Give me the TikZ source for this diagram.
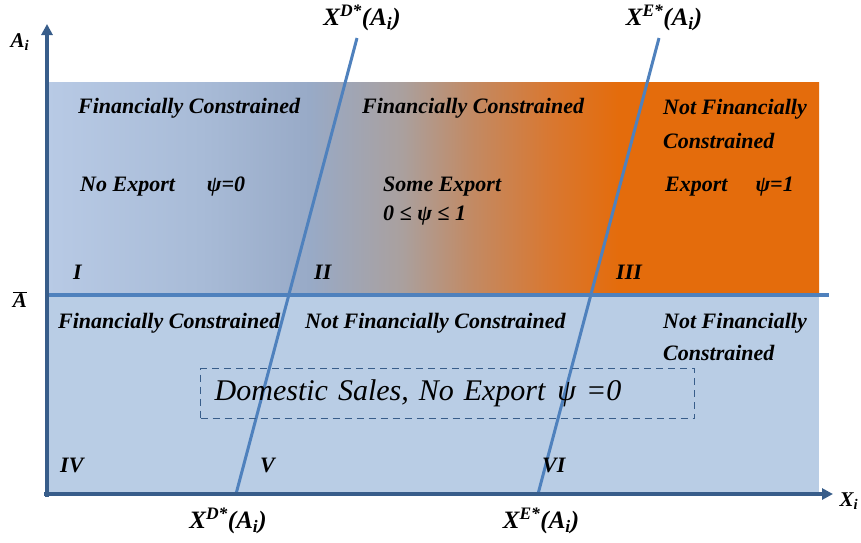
\documentclass[tikz,border=0pt]{standalone}
\usepackage{fontspec}
\setmainfont{Liberation Serif}
\usetikzlibrary{arrows.meta}
\definecolor{lowblue}{RGB}{185,205,229}
\definecolor{lineblue}{RGB}{79,129,189}
\definecolor{axisblue}{RGB}{56,93,138}
\definecolor{gA}{RGB}{184,202,229}
\definecolor{gB}{RGB}{168,187,215}
\definecolor{gC}{RGB}{152,170,199}
\definecolor{gD}{RGB}{170,160,158}
\definecolor{gE}{RGB}{194,138,100}
\definecolor{gF}{RGB}{216,120,50}
\definecolor{orng}{RGB}{228,108,12}
\pgfdeclarehorizontalshading{upperband}{100bp}{color(0bp)=(gA); color(25bp)=(gA); color(35bp)=(gB); color(42bp)=(gC); color(48bp)=(gD); color(52.5bp)=(gE); color(57.5bp)=(gF); color(62bp)=(orng); color(75bp)=(orng); color(100bp)=(orng)}
\newcommand\xstarlab[1]{X\textsuperscript{#1*}(A\textsubscript{i})}
\begin{document}
\begin{tikzpicture}[x=1pt,y=-1pt,
  lbl/.style={font=\fontsize{22}{26}\selectfont\bfseries\itshape, inner sep=0pt, anchor=base west},
  roman/.style={font=\fontsize{22}{26}\selectfont\bfseries\itshape, inner sep=0pt, anchor=base west},
  axlbl/.style={font=\fontsize{21}{25}\selectfont\bfseries\itshape, inner sep=0pt},
  xlab/.style={font=\fontsize{25}{29}\selectfont\bfseries\itshape, inner sep=0pt},
  curve/.style={lineblue, line width=3pt},
  axis/.style={axisblue, line width=4pt, -{Triangle[length=11pt,width=11pt]}}]
\useasboundingbox (0,0) rectangle (861,542);
% regions
\shade[shading=upperband] (47,82) rectangle (819,295);
\fill[lowblue] (47,295) rectangle (819,494);
% coordinates
\coordinate (abarL) at (47,295);
\coordinate (abarR) at (829,295);
\coordinate (dtop) at (357,38);
\coordinate (dbot) at (236,494);
\coordinate (etop) at (659,38);
\coordinate (ebot) at (538,494);
\coordinate (ybase) at (47,497);
\coordinate (ytip) at (47,24);
\coordinate (xbase) at (44,494);
\coordinate (xtip) at (833,494);
% lines
\draw[lineblue, line width=3.5pt] (abarL) -- (abarR);
\draw[curve] (dtop) -- (dbot);
\draw[curve] (etop) -- (ebot);
\draw[axis] (ybase) -- (ytip);
\draw[axis] (xbase) -- (xtip);
% axis labels
\node[axlbl] (ai) at (20,42) {A\textsubscript{i}};
\node[axlbl] (abar) at (20,300) {$\overline{\hbox{\fontsize{21}{25}\selectfont\bfseries\itshape A}}$};
\node[axlbl] (xi) at (849,501) {X\textsubscript{i}};
\node[xlab] (dtoplab) at (362,18) {\xstarlab{D}};
\node[xlab] (etoplab) at (664,18) {\xstarlab{E}};
\node[xlab] (dbotlab) at (228,521) {\xstarlab{D}};
\node[xlab] (ebotlab) at (541,521) {\xstarlab{E}};
% upper texts
\node[lbl] (t1) at (78,113) {Financially Constrained};
\node[lbl] (t2) at (362,113) {Financially Constrained};
\node[lbl] (t3) at (663,114) {Not Financially};
\node[lbl] (t3b) at (663,148) {Constrained};
\node[lbl] (t4) at (80,191) {No Export\hspace{32pt}ψ=0};
\node[lbl] (t5) at (383,191) {Some Export};
\node[lbl] (t5b) at (383,220) {0 ≤ ψ ≤ 1};
\node[lbl] (t6) at (665,191) {Export\hspace{28pt}ψ=1};
\node[roman] (r1) at (73,279) {I};
\node[roman] (r2) at (314,279) {II};
\node[roman] (r3) at (616,279) {III};
% lower texts
\node[lbl] (b1) at (58,328) {Financially Constrained};
\node[lbl] (b2) at (305,328) {Not Financially Constrained};
\node[lbl] (b3) at (663,328) {Not Financially};
\node[lbl] (b3b) at (663,360) {Constrained};
\node[roman] (r4) at (60,472) {IV};
\node[roman] (r5) at (260,472) {V};
\node[roman] (r6) at (542,472) {VI};
% domestic box
\node[draw=axisblue, dash pattern=on 7pt off 5pt, line width=1.4pt, anchor=north west,
      minimum width=494pt, minimum height=50pt, text width=466pt, align=left,
      inner xsep=14pt, inner ysep=0pt, font=\fontsize{30}{34}\selectfont\itshape]
      (dom) at (200,368) {Domestic Sales, No Export\hspace{12pt}ψ =0};
\end{tikzpicture}
\end{document}
